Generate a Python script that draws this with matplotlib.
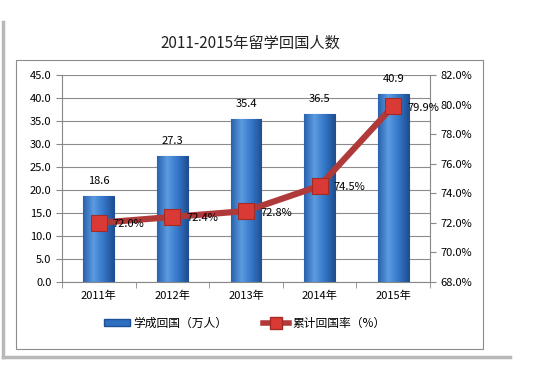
import matplotlib
matplotlib.use("Agg")
import matplotlib.pyplot as plt
from matplotlib.patches import Rectangle
from matplotlib.lines import Line2D
from matplotlib.colors import LinearSegmentedColormap
import numpy as np

plt.rcParams['font.family'] = ['Noto Sans CJK SC', 'DejaVu Sans']

years = ['2011年', '2012年', '2013年', '2014年', '2015年']
returnees = [18.6, 27.3, 35.4, 36.5, 40.9]
return_rate = [72.0, 72.4, 72.8, 74.5, 79.9]

fig = plt.figure(figsize=(5.37, 3.88), dpi=100)

# outer frame and inner chart box
fig.add_artist(Line2D([0.006, 0.006], [1 - 22/388, 1 - 357/388], color='#b8b8b8', lw=2.5))
fig.add_artist(Line2D([0.006, 0.95], [1 - 357/388, 1 - 357/388], color='#b8b8b8', lw=2.5))
fig.add_artist(Rectangle((16/537, 1 - 349/388), 467/537, 289/388, fill=False,
                         edgecolor='#8c8c8c', lw=0.8))

fig.text(250/537, 1 - 43/388, '2011-2015年留学回国人数', ha='center', va='center',
         fontsize=11, color='#222222')

ax = fig.add_axes([62/537, 1 - 282/388, 368/537, 207/388])
x = np.arange(len(years))
bars = ax.bar(x, returnees, width=0.42, color='#2f6fc0', edgecolor='#1d4f94', lw=0.8, zorder=2)

# shaded look on the bars
cmap = LinearSegmentedColormap.from_list('bar', ['#2a62ad', '#5b9be0', '#3577c9', '#1f4f93'])
grad = np.linspace(0, 1, 64).reshape(1, -1)
for b in bars:
    x0, w, h = b.get_x(), b.get_width(), b.get_height()
    im = ax.imshow(grad, cmap=cmap, aspect='auto', extent=(x0, x0 + w, 0, h), zorder=2.1)
    im.set_clip_path(b)

for xi, v in zip(x, returnees):
    ax.text(xi, v + 2.2, f'{v:.1f}', ha='center', va='bottom', fontsize=8)

ax.set_ylim(0, 45)
ax.set_yticks(np.arange(0, 46, 5))
ax.set_yticklabels([f'{t:.1f}' for t in np.arange(0, 46, 5)], fontsize=8)
ax.set_xlim(-0.5, 4.5)
ax.set_xticks(x)
ax.set_xticklabels(years, fontsize=8)
ax.set_xticks(np.arange(-0.5, 5, 1), minor=True)
ax.tick_params(axis='x', which='major', length=0, pad=6)
ax.tick_params(axis='x', which='minor', length=4, color='#888888')
ax.tick_params(axis='y', length=4, color='#888888')
ax.grid(axis='y', color='#8c8c8c', lw=0.8, zorder=0)
ax.set_axisbelow(True)
for s in ['top', 'right']:
    ax.spines[s].set_visible(False)
ax.spines['left'].set_color('#888888')
ax.spines['bottom'].set_color('#888888')

ax2 = ax.twinx()
ax2.plot(x, return_rate, color='#b03a3a', lw=4.5, marker='s', markersize=11,
         markerfacecolor='#d93a35', markeredgecolor='#a52a25', markeredgewidth=0.8, zorder=3)
for xi, v in zip(x, return_rate):
    ax2.text(xi + 0.19, v - 0.1, f'{v:.1f}%', ha='left', va='center', fontsize=8)
ax2.set_ylim(68, 82)
ax2.set_yticks(np.arange(68, 83, 2))
ax2.set_yticklabels([f'{t:.1f}%' for t in np.arange(68, 83, 2)], fontsize=8)
ax2.tick_params(axis='y', length=4, color='#888888')
for s in ['top', 'left', 'bottom']:
    ax2.spines[s].set_visible(False)
ax2.spines['right'].set_color('#888888')

handles = [
    Rectangle((0, 0), 1, 1, facecolor='#2f6fc0', edgecolor='#1d4f94'),
    Line2D([], [], color='#b03a3a', lw=4, marker='s', markersize=8,
           markerfacecolor='#d93a35', markeredgecolor='#a52a25'),
]
fig.legend(handles, ['学成回国（万人）', '累计回国率（%）'], loc='center',
           bbox_to_anchor=(245/537, 1 - 323/388), ncol=2, frameon=False, fontsize=8.5,
           handlelength=2.2, handleheight=0.5, columnspacing=3.0, handletextpad=0.3)

fig.savefig('out.png', dpi=100, facecolor='white')
